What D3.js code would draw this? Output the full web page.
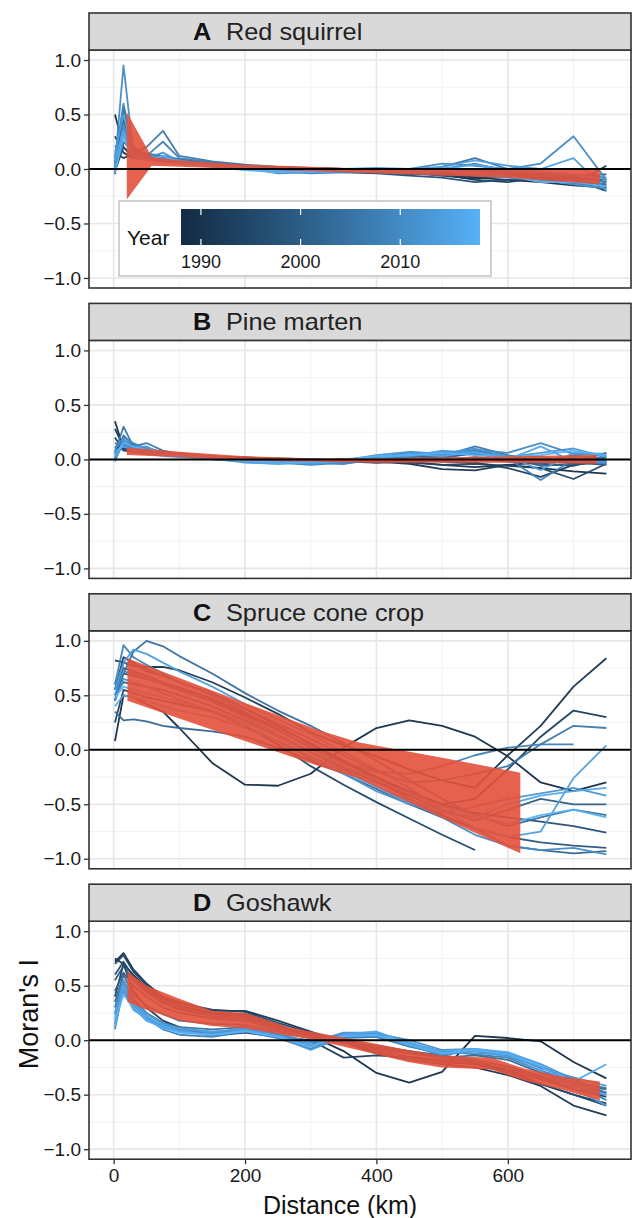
<!DOCTYPE html>
<html><head><meta charset="utf-8">
<script src="https://cdn.jsdelivr.net/npm/d3@7"></script>
<style>body{margin:0;background:#fff}svg{display:block}text{font-family:"Liberation Sans",Arial,Helvetica,sans-serif}</style>
</head><body><svg id="chart" width="635" height="1218"></svg>
<script>
// ---------------- data ----------------
const lags = [2, 15, 30, 50, 75, 100, 150, 200, 250, 300, 350, 400, 450, 500, 550, 600, 650, 700, 750];
const years = [1988, 1990, 1992, 1994, 1996, 1998, 2000, 2002, 2004, 2006, 2008, 2010, 2012, 2014, 2016, 2018];
const panelLetters = ["A", "B", "C", "D"];
const panelNames = ["Red squirrel", "Pine marten", "Spruce cone crop", "Goshawk"];
const yTicks = [-1, -0.5, 0, 0.5, 1];
const xTicks = [0, 200, 400, 600];
const legendTicks = [1990, 2000, 2010];

const squirrelLines = [
  [0.50, 0.20, 0.12, 0.10, 0.10, 0.08, 0.05, 0.03, 0.01, 0.00, -0.01, -0.02, -0.04, -0.05, -0.08, -0.10, -0.12, -0.15, -0.17],
  [0.30, 0.15, 0.10, 0.12, 0.09, 0.07, 0.04, 0.02, 0.00, -0.01, -0.02, -0.03, -0.03, -0.06, -0.09, -0.06, -0.08, -0.10, -0.20],
  [0.15, 0.10, 0.14, 0.11, 0.10, 0.06, 0.05, 0.02, 0.01, 0.01, 0.00, -0.01, -0.03, -0.05, -0.10, -0.12, -0.08, -0.14, 0.03],
  [0.02, 0.35, 0.15, 0.10, 0.08, 0.07, 0.04, 0.03, 0.00, 0.00, -0.01, -0.02, -0.05, -0.04, -0.07, -0.05, -0.06, -0.08, -0.12],
  [0.10, 0.40, 0.12, 0.12, 0.09, 0.06, 0.05, 0.02, 0.00, -0.02, -0.03, -0.04, -0.06, -0.08, -0.12, -0.10, -0.09, -0.12, -0.15],
  [-0.02, 0.20, 0.10, 0.09, 0.07, 0.06, 0.04, 0.03, 0.02, 0.01, 0.00, 0.00, -0.02, -0.03, -0.04, -0.05, -0.04, -0.06, -0.05],
  [0.05, 0.45, 0.18, 0.13, 0.10, 0.08, 0.05, 0.02, 0.01, 0.00, -0.02, -0.02, -0.03, -0.04, 0.00, -0.03, -0.05, -0.08, -0.10],
  [0.20, 0.30, 0.12, 0.10, 0.08, 0.06, 0.03, 0.01, 0.00, -0.01, -0.01, -0.03, -0.04, -0.06, -0.05, -0.07, -0.10, -0.13, -0.18],
  [-0.05, 0.55, 0.20, 0.14, 0.12, 0.09, 0.06, 0.03, 0.00, -0.02, -0.01, 0.00, -0.02, 0.02, 0.10, 0.00, -0.03, -0.05, -0.08],
  [0.00, 0.25, 0.15, 0.20, 0.35, 0.12, 0.07, 0.04, 0.02, 0.00, 0.00, -0.01, -0.02, -0.03, -0.02, -0.04, -0.06, -0.10, -0.14],
  [0.10, 0.60, 0.16, 0.12, 0.25, 0.10, 0.06, 0.02, -0.02, -0.04, -0.03, -0.02, -0.01, 0.00, 0.05, -0.02, -0.04, -0.06, -0.12],
  [0.05, 0.95, 0.15, 0.11, 0.09, 0.08, 0.04, 0.01, -0.04, -0.03, -0.02, -0.01, 0.00, 0.05, 0.03, 0.00, 0.05, 0.30, -0.10],
  [0.00, 0.40, 0.12, 0.10, 0.15, 0.07, 0.04, 0.02, -0.02, -0.03, -0.02, -0.03, -0.04, -0.02, -0.06, -0.08, -0.10, -0.14, -0.18],
  [0.15, 0.50, 0.14, 0.12, 0.10, 0.08, 0.03, 0.00, -0.03, -0.01, 0.00, 0.01, 0.00, 0.02, 0.08, 0.03, 0.00, 0.10, -0.20],
  [0.08, 0.35, 0.13, 0.09, 0.07, 0.05, 0.03, 0.00, -0.02, -0.03, -0.02, -0.01, -0.02, 0.00, 0.04, -0.01, -0.03, -0.05, -0.09],
  [-0.03, 0.30, 0.10, 0.08, 0.12, 0.06, 0.02, -0.01, -0.03, -0.02, -0.01, -0.02, -0.03, -0.01, -0.04, -0.06, -0.12, -0.12, -0.16]
];
const martenLines = [
  [0.35, 0.10, 0.08, 0.06, 0.05, 0.04, 0.02, 0.01, 0.00, -0.01, -0.02, -0.03, -0.02, -0.05, -0.07, -0.05, -0.08, -0.11, -0.13],
  [0.28, 0.12, 0.10, 0.07, 0.05, 0.04, 0.03, 0.01, 0.00, -0.01, 0.00, -0.02, -0.04, -0.09, -0.10, -0.05, -0.03, -0.02, 0.06],
  [0.05, 0.14, 0.09, 0.08, 0.06, 0.04, 0.02, 0.02, 0.00, -0.01, -0.02, -0.01, 0.00, -0.02, -0.03, -0.08, -0.16, -0.05, -0.02],
  [0.20, 0.08, 0.07, 0.05, 0.04, 0.03, 0.02, 0.00, -0.01, -0.02, -0.01, -0.02, -0.03, -0.05, -0.04, -0.06, -0.08, -0.18, -0.04],
  [0.00, 0.15, 0.10, 0.09, 0.07, 0.05, 0.03, 0.01, 0.00, -0.02, -0.02, -0.02, -0.01, 0.00, 0.01, -0.02, -0.04, -0.06, 0.02],
  [0.12, 0.09, 0.11, 0.08, 0.06, 0.05, 0.02, 0.01, 0.01, 0.00, -0.01, -0.03, -0.02, -0.01, 0.02, 0.00, -0.02, -0.03, -0.05],
  [0.08, 0.18, 0.12, 0.10, 0.06, 0.04, 0.03, 0.00, -0.01, -0.02, -0.03, -0.01, 0.02, 0.03, 0.05, 0.02, -0.06, -0.04, -0.01],
  [0.15, 0.11, 0.14, 0.07, 0.05, 0.03, 0.02, 0.01, -0.02, -0.03, -0.02, 0.00, 0.03, 0.01, 0.06, 0.00, -0.04, 0.02, -0.03],
  [0.00, 0.22, 0.13, 0.09, 0.04, 0.06, 0.01, 0.00, -0.01, -0.03, -0.04, 0.01, 0.04, 0.02, 0.08, 0.03, 0.02, -0.02, 0.03],
  [0.06, 0.30, 0.12, 0.15, 0.08, 0.05, 0.03, -0.01, -0.02, -0.04, -0.02, 0.02, 0.06, 0.03, 0.12, 0.04, -0.02, 0.04, 0.00],
  [0.02, 0.16, 0.09, 0.11, 0.06, 0.03, 0.00, -0.02, -0.03, -0.05, -0.03, 0.03, 0.02, 0.07, 0.05, 0.01, -0.19, 0.00, -0.04],
  [0.10, 0.20, 0.15, 0.10, 0.07, 0.04, 0.02, 0.00, -0.02, -0.03, -0.04, 0.00, 0.05, 0.04, 0.09, 0.06, 0.15, 0.05, 0.04],
  [0.04, 0.13, 0.10, 0.08, 0.05, 0.02, 0.01, -0.03, -0.04, -0.02, -0.01, 0.04, 0.07, 0.05, 0.10, 0.02, 0.06, 0.10, 0.02],
  [-0.02, 0.18, 0.11, 0.12, 0.04, 0.03, 0.00, -0.01, -0.02, -0.04, -0.02, 0.02, 0.03, 0.08, 0.06, 0.03, -0.10, 0.06, 0.05],
  [0.07, 0.12, 0.08, 0.06, 0.03, 0.02, 0.01, -0.02, -0.04, -0.03, -0.01, 0.01, 0.05, 0.03, 0.07, 0.00, 0.12, -0.02, -0.02],
  [0.03, 0.15, 0.12, 0.09, 0.05, 0.04, 0.02, -0.01, -0.03, -0.02, 0.00, 0.03, 0.04, 0.06, 0.04, 0.02, 0.04, 0.08, 0.03]
];
const coneLines = [
  [0.08, 0.50, 0.48, 0.42, 0.35, 0.20, -0.12, -0.32, -0.33, -0.22, 0.02, 0.20, 0.27, 0.22, 0.12, -0.06, -0.30, -0.38, -0.30],
  [0.82, 0.80, 0.77, 0.76, 0.76, 0.73, 0.62, 0.48, 0.33, 0.16, 0.04, -0.06, -0.18, -0.28, -0.35, -0.05, 0.22, 0.58, 0.84],
  [0.55, 0.85, 0.80, 0.72, 0.68, 0.62, 0.52, 0.38, 0.22, 0.05, -0.10, -0.25, -0.40, -0.50, -0.45, -0.18, 0.12, 0.36, 0.30],
  [0.25, 0.55, 0.52, 0.48, 0.45, 0.42, 0.35, 0.22, 0.05, -0.15, -0.32, -0.48, -0.63, -0.78, -0.92, null, null, null, null],
  [0.45, 0.70, 0.68, 0.65, 0.60, 0.55, 0.45, 0.32, 0.18, 0.02, -0.12, -0.25, -0.38, -0.50, -0.58, -0.62, -0.66, -0.70, -0.76],
  [0.60, 0.75, 0.72, 0.68, 0.62, 0.57, 0.47, 0.34, 0.20, 0.06, -0.10, -0.28, -0.45, -0.60, -0.72, -0.80, -0.85, -0.88, -0.90],
  [0.50, 0.62, 0.60, 0.58, 0.55, 0.50, 0.40, 0.27, 0.12, -0.02, -0.16, -0.30, -0.42, -0.55, -0.65, -0.55, -0.45, -0.50, -0.50],
  [0.35, 0.27, 0.28, 0.26, 0.22, 0.20, 0.17, 0.12, 0.02, -0.10, -0.22, -0.36, -0.50, -0.62, -0.72, -0.88, -0.92, -0.95, -0.93],
  [0.55, 0.70, 0.90, 1.00, 0.95, 0.86, 0.70, 0.52, 0.36, 0.22, 0.06, -0.10, -0.28, -0.45, -0.60, -0.70, -0.62, -0.55, -0.60],
  [0.45, 0.80, 0.78, 0.74, 0.68, 0.62, 0.52, 0.38, 0.24, 0.10, -0.05, -0.20, -0.30, -0.28, -0.22, -0.15, 0.05, 0.22, 0.20],
  [0.60, 0.96, 0.85, 0.78, 0.70, 0.62, 0.50, 0.35, 0.18, 0.02, -0.12, -0.20, -0.22, -0.15, -0.05, 0.02, 0.05, 0.05, null],
  [0.50, 0.72, 0.70, 0.66, 0.60, 0.55, 0.44, 0.30, 0.14, -0.02, -0.18, -0.34, -0.48, -0.62, -0.78, -0.88, -0.92, -0.90, -0.96],
  [0.45, 0.65, 0.62, 0.58, 0.52, 0.46, 0.36, 0.22, 0.08, -0.08, -0.22, -0.38, -0.50, -0.58, -0.52, -0.45, -0.40, -0.35, -0.42],
  [0.55, 0.80, 0.92, 0.88, 0.80, 0.72, 0.58, 0.42, 0.28, 0.14, -0.02, -0.18, -0.35, -0.55, -0.72, -0.80, -0.75, -0.26, 0.04],
  [0.40, 0.50, 0.48, 0.45, 0.40, 0.36, 0.30, 0.20, 0.08, -0.06, -0.20, -0.34, -0.46, -0.56, -0.62, -0.50, -0.42, -0.38, -0.35],
  [0.48, 0.58, 0.55, 0.52, 0.48, 0.44, 0.36, 0.25, 0.12, -0.01, -0.15, -0.28, -0.40, -0.52, -0.60, -0.68, -0.60, -0.55, -0.62]
];
const goshawkLines = [
  [0.75, 0.70, 0.60, 0.48, 0.38, 0.32, 0.25, 0.24, 0.14, 0.04, -0.10, -0.30, -0.39, -0.29, 0.04, 0.02, -0.01, -0.20, -0.35],
  [0.72, 0.80, 0.65, 0.52, 0.40, 0.35, 0.27, 0.27, 0.18, 0.08, -0.02, -0.12, -0.18, -0.22, -0.25, -0.32, -0.42, -0.60, -0.69],
  [0.40, 0.70, 0.45, 0.30, 0.18, 0.12, 0.04, 0.07, 0.03, 0.00, -0.16, -0.14, -0.16, -0.20, -0.22, -0.28, -0.40, -0.50, -0.58],
  [0.70, 0.78, 0.63, 0.50, 0.39, 0.34, 0.28, 0.26, 0.16, 0.07, 0.00, -0.08, -0.12, -0.16, -0.20, -0.28, -0.36, -0.45, -0.52],
  [0.60, 0.72, 0.58, 0.46, 0.36, 0.30, 0.24, 0.22, 0.12, 0.05, -0.02, -0.10, -0.15, -0.18, -0.22, -0.30, -0.40, -0.50, -0.60],
  [0.55, 0.68, 0.55, 0.44, 0.34, 0.28, 0.22, 0.20, 0.12, 0.06, 0.00, -0.06, -0.10, -0.14, -0.18, -0.24, -0.33, -0.42, -0.48],
  [0.45, 0.62, 0.50, 0.40, 0.30, 0.25, 0.20, 0.18, 0.10, 0.04, -0.02, -0.08, -0.12, -0.15, -0.20, -0.26, -0.34, -0.45, -0.50],
  [0.35, 0.60, 0.42, 0.32, 0.24, 0.18, 0.15, 0.14, 0.08, 0.02, -0.03, -0.05, -0.10, -0.16, -0.14, -0.18, -0.30, -0.40, -0.45],
  [0.30, 0.55, 0.38, 0.25, 0.16, 0.12, 0.10, 0.12, 0.06, -0.02, 0.02, 0.03, -0.06, -0.12, -0.10, -0.14, -0.25, -0.35, -0.50],
  [0.25, 0.50, 0.35, 0.22, 0.12, 0.08, 0.06, 0.10, 0.04, -0.06, 0.05, 0.05, -0.04, -0.10, -0.13, -0.16, -0.28, -0.38, -0.44],
  [0.15, 0.52, 0.32, 0.20, 0.10, 0.05, 0.03, 0.08, 0.02, -0.08, 0.04, 0.03, -0.05, -0.14, -0.09, -0.14, -0.24, -0.40, -0.55],
  [0.10, 0.48, 0.30, 0.18, 0.12, 0.09, 0.04, 0.09, 0.05, -0.04, 0.06, 0.06, 0.00, -0.09, -0.08, -0.12, -0.22, -0.36, -0.48],
  [0.20, 0.45, 0.28, 0.20, 0.14, 0.10, 0.07, 0.11, 0.06, -0.02, 0.07, 0.07, -0.02, -0.11, -0.12, -0.13, -0.26, -0.34, -0.42],
  [0.23, 0.55, 0.36, 0.24, 0.15, 0.11, 0.08, 0.10, 0.03, -0.09, 0.03, 0.04, -0.05, -0.13, -0.10, -0.15, -0.28, -0.44, -0.60],
  [0.12, 0.50, 0.33, 0.22, 0.13, 0.08, 0.05, 0.09, 0.04, -0.05, 0.05, 0.08, -0.03, -0.10, -0.08, -0.11, -0.22, -0.38, -0.22],
  [0.18, 0.42, 0.30, 0.19, 0.11, 0.07, 0.05, 0.08, 0.03, -0.06, 0.04, 0.05, -0.04, -0.12, -0.09, -0.13, -0.24, -0.42, -0.50]
];

// confidence ribbons (red)
const squirrelBandDist = [20, 58, 100, 200, 300, 400, 500, 600, 740];
const squirrelBandHi = [0.52, 0.11, 0.08, 0.04, 0.02, 0.00, -0.01, -0.01, -0.01];
const squirrelBandLo = [-0.28, 0.03, 0.02, 0.00, -0.02, -0.04, -0.06, -0.08, -0.14];
const martenBandDist = [20, 100, 200, 300, 400, 500, 600, 735];
const martenBandHi = [0.11, 0.07, 0.03, 0.01, 0.01, 0.02, 0.03, 0.04];
const martenBandLo = [0.04, 0.02, -0.01, -0.02, -0.03, -0.03, -0.03, -0.04];
const coneBandDist = [21, 200, 313, 372, 498, 619];
const coneBandHi = [0.84, 0.43, 0.18, 0.07, -0.07, -0.21];
const coneBandLo = [0.45, 0.08, -0.15, -0.26, -0.62, -0.95];
const goshawkBandDist = [21, 50, 100, 150, 200, 265, 300, 372, 448, 499, 575, 625, 680, 740];
const goshawkBandHi = [0.63, 0.50, 0.38, 0.27, 0.25, 0.12, 0.08, 0.00, -0.09, -0.14, -0.16, -0.26, -0.33, -0.38];
const goshawkBandLo = [0.35, 0.28, 0.18, 0.13, 0.11, 0.04, 0.01, -0.09, -0.20, -0.25, -0.27, -0.37, -0.45, -0.55];

// ---------------- drawing ----------------
const panelsLines = [squirrelLines, martenLines, coneLines, goshawkLines];
const panelsBand = [
  [squirrelBandDist, squirrelBandHi, squirrelBandLo],
  [martenBandDist, martenBandHi, martenBandLo],
  [coneBandDist, coneBandHi, coneBandLo],
  [goshawkBandDist, goshawkBandHi, goshawkBandLo]
];

const svg = d3.select("#chart");
const left = 89, right = 631, stripH = 37, plotH = 238, firstTop = 13, step = 290.4;
const color = d3.scaleLinear().domain([1988, 2018]).range(["#132B43", "#56B1F7"]).interpolate(d3.interpolateLab);
const x = d3.scaleLinear().domain([-37.5, 787.5]).range([left, right]);

panelLetters.forEach((letter, i) => {
  const top = firstTop + i * step;
  const pTop = top + stripH, pBot = pTop + plotH;
  const y = d3.scaleLinear().domain([-1.092, 1.092]).range([pBot, pTop]);
  const g = svg.append("g");

  const clipId = "clip" + i;
  svg.append("clipPath").attr("id", clipId).append("rect")
    .attr("x", left).attr("y", pTop).attr("width", right - left).attr("height", plotH);

  g.append("rect").attr("x", left).attr("y", pTop).attr("width", right - left).attr("height", plotH).attr("fill", "#fff");

  const grid = g.append("g");
  [-0.75, -0.25, 0.25, 0.75].forEach(v => grid.append("line").attr("x1", left).attr("x2", right).attr("y1", y(v)).attr("y2", y(v)).attr("stroke", "#f2f2f2").attr("stroke-width", 1));
  [100, 300, 500, 700].forEach(v => grid.append("line").attr("y1", pTop).attr("y2", pBot).attr("x1", x(v)).attr("x2", x(v)).attr("stroke", "#f2f2f2").attr("stroke-width", 1));
  yTicks.forEach(v => grid.append("line").attr("x1", left).attr("x2", right).attr("y1", y(v)).attr("y2", y(v)).attr("stroke", "#e6e6e6").attr("stroke-width", 1.6));
  xTicks.forEach(v => grid.append("line").attr("y1", pTop).attr("y2", pBot).attr("x1", x(v)).attr("x2", x(v)).attr("stroke", "#e6e6e6").attr("stroke-width", 1.6));

  const plot = g.append("g").attr("clip-path", `url(#${clipId})`);
  const line = d3.line().defined(v => v != null).x((v, j) => x(lags[j])).y(v => y(v));
  panelsLines[i].forEach((series, k) => {
    plot.append("path").attr("d", line(series)).attr("fill", "none")
      .attr("stroke", color(years[k])).attr("stroke-width", 1.8).attr("stroke-linejoin", "round").attr("opacity", 0.95);
  });

  const [bd, bh, bl] = panelsBand[i];
  const bandData = bd.map((d, j) => ({ d, hi: bh[j], lo: bl[j] }));
  const area = d3.area().x(d => x(d.d)).y0(d => y(d.lo)).y1(d => y(d.hi));
  plot.append("path").attr("d", area(bandData)).attr("fill", "#e3513b").attr("opacity", 0.9);

  plot.append("line").attr("x1", left).attr("x2", right).attr("y1", y(0)).attr("y2", y(0)).attr("stroke", "#000").attr("stroke-width", 2);

  // border
  g.append("rect").attr("x", left).attr("y", pTop).attr("width", right - left).attr("height", plotH)
    .attr("fill", "none").attr("stroke", "#333").attr("stroke-width", 1.6);

  // strip
  g.append("rect").attr("x", left).attr("y", top).attr("width", right - left).attr("height", stripH)
    .attr("fill", "#d9d9d9").attr("stroke", "#333").attr("stroke-width", 1.6);
  const st = g.append("g").attr("transform", `translate(193,${top + 27}) scale(1.1,1)`);
  st.append("text").attr("x", 0).attr("y", 0).attr("font-size", 23).attr("font-weight", "bold").attr("fill", "#111").text(letter);
  st.append("text").attr("x", 30).attr("y", 0).attr("font-size", 23).attr("fill", "#222").text(panelNames[i]);

  // y axis
  const ya = g.append("g").attr("transform", `translate(${left},0)`)
    .call(d3.axisLeft(y).tickValues(yTicks).tickFormat(d3.format(".1f")).tickSize(5).tickPadding(3));
  ya.select(".domain").remove();
  ya.selectAll(".tick line").attr("stroke", "#333").attr("stroke-width", 1.3);
  ya.selectAll(".tick text").attr("font-size", 19).attr("fill", "#1a1a1a").attr("font-family", "Liberation Sans, Arial, sans-serif");

  if (i === 3) {
    const xa = g.append("g").attr("transform", `translate(0,${pBot})`)
      .call(d3.axisBottom(x).tickValues(xTicks).tickSize(5).tickPadding(4));
    xa.select(".domain").remove();
    xa.selectAll(".tick line").attr("stroke", "#333").attr("stroke-width", 1.3);
    xa.selectAll(".tick text").attr("font-size", 19).attr("fill", "#1a1a1a").attr("font-family", "Liberation Sans, Arial, sans-serif");
    svg.append("text").attr("x", 340).attr("y", 1214).attr("text-anchor", "middle").attr("font-size", 25).attr("fill", "#111").text("Distance (km)");
    svg.append("text").attr("transform", `translate(38,${(pTop + pBot) / 2 - 26}) rotate(-90)`).attr("text-anchor", "middle")
      .attr("font-size", 27).attr("fill", "#111").text("Moran's I");
  }

  if (i === 0) {
    const lg = g.append("g");
    lg.append("rect").attr("x", 119).attr("y", 201).attr("width", 372).attr("height", 75)
      .attr("fill", "#fff").attr("stroke", "#b3b3b3").attr("stroke-width", 1.2);
    const defs = svg.append("defs");
    const grad = defs.append("linearGradient").attr("id", "yearGrad");
    d3.range(0, 1.0001, 0.1).forEach(t => grad.append("stop").attr("offset", t).attr("stop-color", color(1988 + t * 30)));
    const lx = d3.scaleLinear().domain([1988, 2018]).range([181, 480]);
    lg.append("rect").attr("x", lx(1988)).attr("y", 209).attr("width", lx(2018) - lx(1988)).attr("height", 36).attr("fill", "url(#yearGrad)");
    legendTicks.forEach(t => {
      lg.append("line").attr("x1", lx(t)).attr("x2", lx(t)).attr("y1", 209).attr("y2", 215).attr("stroke", "#fff").attr("stroke-width", 1.2);
      lg.append("line").attr("x1", lx(t)).attr("x2", lx(t)).attr("y1", 239).attr("y2", 245).attr("stroke", "#fff").attr("stroke-width", 1.2);
      lg.append("text").attr("x", lx(t)).attr("y", 268).attr("text-anchor", "middle").attr("font-size", 18).attr("fill", "#1a1a1a").text(t);
    });
    lg.append("text").attr("x", 127).attr("y", 245).attr("font-size", 21).attr("fill", "#111").text("Year");
  }
});
</script></body></html>
